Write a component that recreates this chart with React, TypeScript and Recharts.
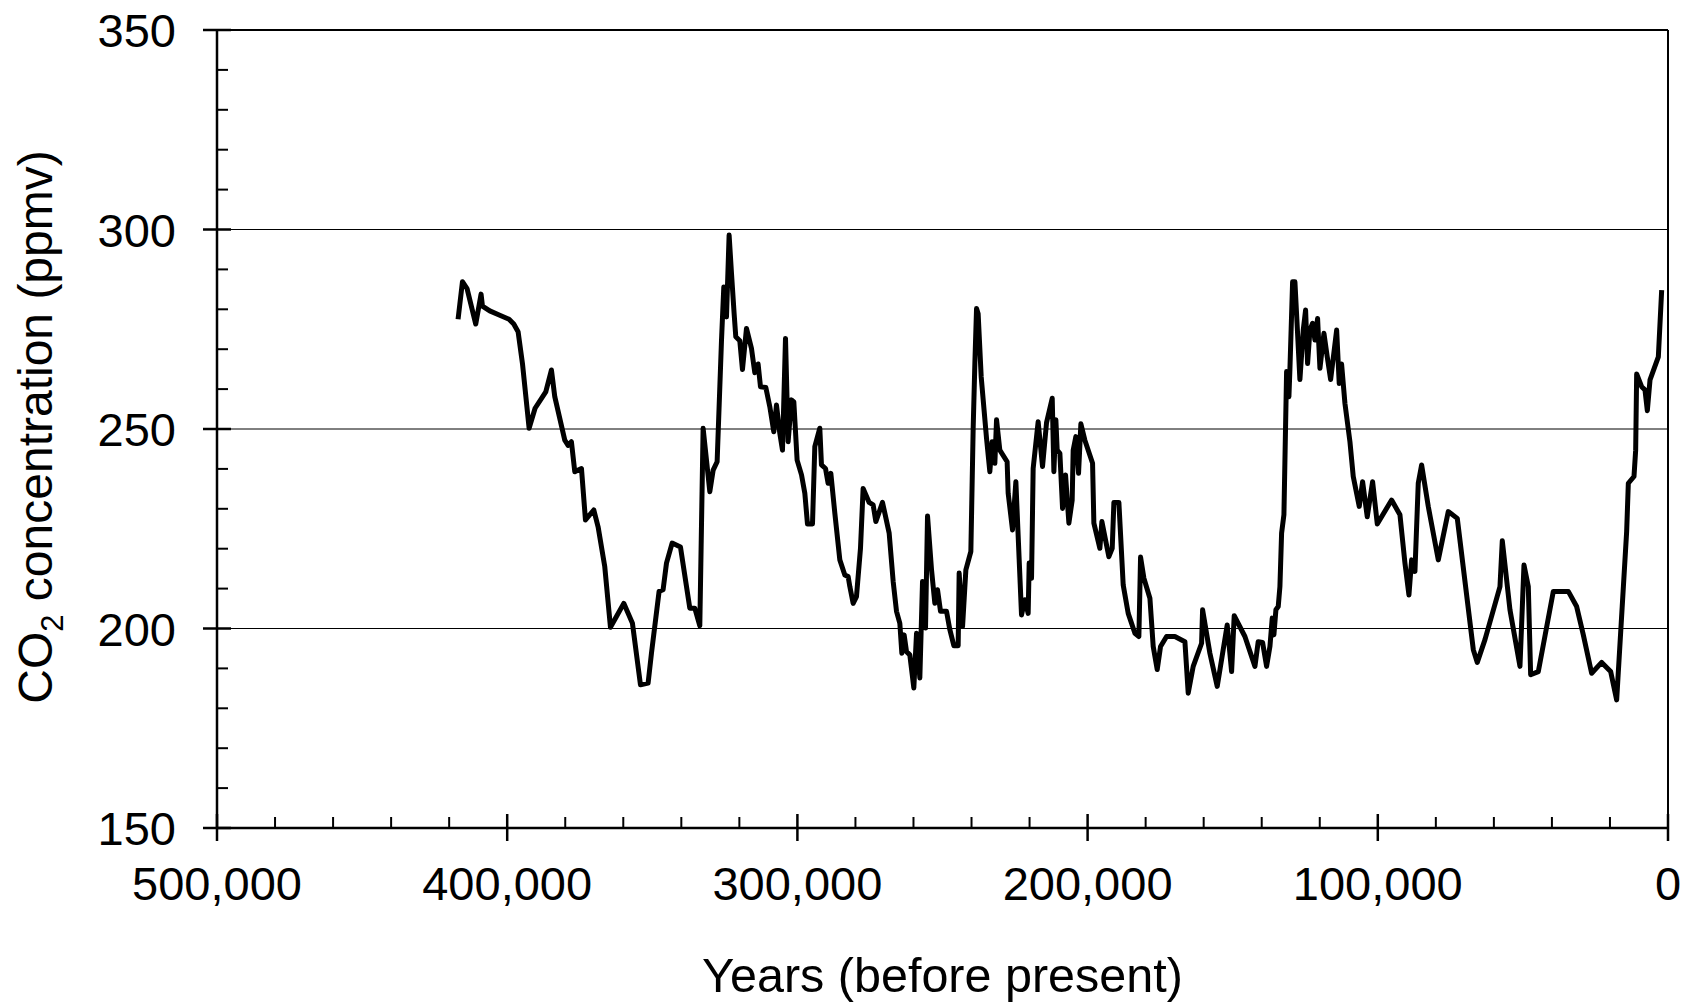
import { LineChart, Line, XAxis, YAxis, ReferenceLine } from "recharts";

const FONT = '"Liberation Sans", Arial, sans-serif';

// years before present (x) and CO2 in ppmv (y)
const years = [
  416930, 415420, 413830, 410840, 409010, 408530, 406010, 402560, 399360, 397740,
  396250, 394740, 392450, 390390, 386710, 384750, 383610, 380160, 379020, 377870,
  376710, 374410, 373030, 370170, 368680, 366380, 364420, 362350, 359830, 356840,
  354080, 351450, 350290, 347660, 346280, 345110, 343170, 340290, 337080, 335360,
  333630, 332490, 330180, 329030, 327660, 326150, 325360, 324440, 323530, 322710,
  321810, 321230, 319850, 318930, 317550, 315830, 314680, 313540, 312720, 310880,
  309510, 308130, 307210, 306060, 305140, 304100, 303200, 302040, 301230, 300100,
  298580, 297440, 296530, 294800, 294000, 292280, 291710, 290310, 289420, 288480,
  287100, 285380, 283660, 282510, 281930, 280790, 279640, 278260, 277350, 275280,
  273900, 272970, 270670, 268380, 267000, 265850, 264700, 264010, 263220, 262400,
  261260, 259880, 258950, 257810, 256880, 255850, 255160, 253780, 252640, 251710,
  250680, 248610, 247470, 246090, 244600, 244260, 243090, 241950, 240230, 239430,
  238850, 238270, 237720, 236670, 234830, 233690, 232890, 231960, 231380, 230240,
  227730, 227370, 225870, 224720, 222770, 221620, 220480, 220130, 219320, 218760,
  217040, 215530, 214150, 212190, 211620, 210930, 210480, 209550, 208630, 207600,
  206450, 205310, 204970, 204040, 203120, 202320, 200940, 198290, 197840, 195770,
  195080, 192670, 191520, 190940, 189220, 187730, 186010, 183700, 182330, 181750,
  180600, 178530, 177390, 176010, 174860, 172790, 169920, 166470, 165330, 163610,
  160720, 160380, 157860, 155330, 151890, 150380, 149480, 145790, 142340, 141210,
  139700, 138320, 137170, 136380, 135800, 135110, 134310, 133730, 133150, 132350,
  131430, 130630, 130290, 129360, 128560, 127760, 126840, 125690, 124880, 124190,
  123390, 122470, 121670, 120750, 119940, 118560, 117420, 116250, 114180, 113290,
  112480, 111320, 109600, 108460, 106390, 105240, 103640, 101790, 100180, 95240,
  92370, 90650, 89270, 88350, 87200, 86060, 84900, 82610, 79160, 75710,
  72610, 67090, 65720, 63070, 57900, 57100, 54460, 51010, 49630, 48140,
  47330, 44690, 39520, 34350, 31480, 29180, 26310, 22860, 19760, 17690,
  14250, 13670, 11720, 11140, 10800, 9080, 7930, 7120, 6200, 3330,
  2180,
];

const co2 = [
  277.5, 286.9, 285.2, 276.3, 283.8, 280.8, 279.6, 278.5, 277.5, 276.3,
  274.4, 266.4, 250.2, 255.2, 259.3, 264.8, 258.1, 247.2, 245.9, 246.8,
  239.3, 240.1, 227.2, 229.7, 225.5, 215.5, 200.3, 203.0, 206.3, 201.3,
  185.9, 186.3, 193.8, 209.3, 209.7, 216.4, 221.4, 220.4, 205.1, 205.1,
  200.7, 250.2, 234.3, 239.7, 241.8, 272.3, 285.6, 278.1, 298.6, 289.0,
  279.0, 273.1, 272.1, 264.9, 275.2, 270.2, 264.1, 266.3, 260.6, 260.4,
  255.6, 249.3, 256.0, 248.9, 244.7, 272.7, 246.8, 257.3, 256.8, 242.2,
  238.5, 233.9, 226.2, 226.2, 245.6, 250.2, 241.0, 240.1, 236.4, 238.9,
  228.9, 217.2, 213.4, 213.0, 210.5, 206.3, 208.0, 220.1, 235.1, 231.6,
  231.0, 226.8, 231.6, 223.9, 211.8, 204.3, 201.3, 193.8, 198.4, 194.2,
  193.4, 185.1, 198.8, 187.6, 211.8, 200.1, 228.2, 214.7, 206.3, 209.7,
  204.3, 204.3, 199.7, 195.7, 195.7, 213.9, 200.5, 214.7, 219.3, 250.2,
  266.4, 280.2, 278.9, 263.1, 247.7, 239.3, 246.8, 241.4, 252.3, 244.7,
  241.8, 233.9, 224.7, 236.8, 203.4, 207.2, 203.8, 216.4, 212.6, 240.1,
  251.8, 240.6, 251.6, 257.7, 239.3, 252.3, 244.7, 243.9, 230.1, 238.5,
  226.4, 232.2, 244.7, 248.1, 238.9, 251.3, 247.2, 241.4, 226.4, 220.1,
  226.8, 218.0, 220.1, 231.6, 231.6, 210.9, 203.8, 198.8, 198.0, 217.9,
  212.6, 207.6, 195.5, 189.7, 195.5, 198.0, 198.0, 196.7, 183.8, 190.5,
  196.3, 204.7, 193.8, 185.5, 200.9, 189.2, 203.2, 198.0, 190.5, 196.7,
  196.5, 190.5, 195.5, 202.6, 198.4, 204.7, 205.5, 210.5, 223.9, 228.5,
  264.4, 258.1, 264.8, 286.9, 286.9, 275.6, 262.4, 274.8, 279.8, 266.4,
  274.8, 276.5, 272.3, 277.7, 265.2, 274.0, 268.1, 262.4, 274.8, 261.4,
  266.3, 256.4, 246.8, 238.1, 230.6, 236.8, 228.0, 236.8, 226.2, 232.2,
  228.5, 216.4, 208.4, 217.2, 214.3, 236.4, 241.0, 230.6, 217.2, 229.3,
  227.6, 194.7, 191.5, 197.2, 210.5, 222.0, 204.7, 190.5, 215.9, 210.5,
  188.4, 189.2, 209.3, 209.3, 205.5, 198.4, 188.8, 191.5, 189.2, 182.1,
  224.3, 236.4, 238.1, 244.7, 263.8, 260.6, 259.8, 254.6, 262.3, 268.1,
  284.8,
];

const xTicks = [
  0, 20000, 40000, 60000, 80000, 100000, 120000, 140000, 160000, 180000,
  200000, 220000, 240000, 260000, 280000, 300000, 320000, 340000, 360000,
  380000, 400000, 420000, 440000, 460000, 480000, 500000,
];
const yTicks = [
  150, 160, 170, 180, 190, 200, 210, 220, 230, 240, 250, 260, 270, 280, 290,
  300, 310, 320, 330, 340, 350,
];
const gridLevels = [200, 250, 300];

const data = years.map((year, i) => ({ year, co2: co2[i] }));

const XTick = ({ x, y, payload }: any) => {
  const v = payload.value;
  const major = v % 100000 === 0;
  if (!major) {
    return <line x1={x} x2={x} y1={y} y2={y - 11} stroke="#000" strokeWidth={2} />;
  }
  return (
    <g>
      <line x1={x} x2={x} y1={y - 14} y2={y + 13} stroke="#000" strokeWidth={2.5} />
      <text x={x} y={y + 72} textAnchor="middle" fontSize={47} fontFamily={FONT} fill="#000">
        {v.toLocaleString("en-US")}
      </text>
    </g>
  );
};

const YTick = ({ x, y, payload }: any) => {
  const v = payload.value;
  const major = v % 50 === 0;
  if (!major) {
    return <line x1={x} x2={x + 11} y1={y} y2={y} stroke="#000" strokeWidth={2} />;
  }
  return (
    <g>
      <line x1={x - 14} x2={x + 14} y1={y} y2={y} stroke="#000" strokeWidth={2.5} />
      <text x={x - 41} y={y + 17} textAnchor="end" fontSize={47} fontFamily={FONT} fill="#000">
        {v}
      </text>
    </g>
  );
};

const XLabel = ({ viewBox }: any) => (
  <text
    x={viewBox.x + viewBox.width / 2}
    y={viewBox.y + 164}
    textAnchor="middle"
    fontSize={48.5}
    fontFamily={FONT}
    fill="#000"
  >
    Years (before present)
  </text>
);

const YLabel = ({ viewBox }: any) => {
  const cx = viewBox.x + 52;
  const cy = viewBox.y + viewBox.height / 2 - 2;
  return (
    <text
      transform={`translate(${cx},${cy}) rotate(-90)`}
      textAnchor="middle"
      fontSize={48}
      fontFamily={FONT}
      fill="#000"
    >
      CO
      <tspan fontSize={31} dy={11}>
        2
      </tspan>
      <tspan dy={-11}> concentration (ppmv)</tspan>
    </text>
  );
};

export default function App() {
  return (
    <div style={{ position: "absolute", left: 0, top: 0, background: "#fff" }}>
      <LineChart
        width={1682}
        height={1005}
        data={data}
        margin={{ top: 30, right: 14, left: 0, bottom: 0 }}
      >
        <XAxis
          dataKey="year"
          type="number"
          domain={[0, 500000]}
          reversed
          ticks={xTicks}
          interval={0}
          height={177}
          tickSize={0}
          tickMargin={0}
          tickLine={false}
          tick={<XTick />}
          axisLine={{ stroke: "#000", strokeWidth: 2.5 }}
          label={{ content: XLabel }}
        />
        <YAxis
          type="number"
          domain={[150, 350]}
          ticks={yTicks}
          interval={0}
          width={217}
          tickSize={0}
          tickMargin={0}
          tickLine={false}
          tick={<YTick />}
          axisLine={{ stroke: "#000", strokeWidth: 2.5 }}
          label={{ content: YLabel }}
        />
        {gridLevels.map((g) => (
          <ReferenceLine key={g} y={g} stroke="#000" strokeWidth={1} />
        ))}
        <ReferenceLine y={350} stroke="#000" strokeWidth={2} />
        <ReferenceLine x={0} stroke="#000" strokeWidth={2} />
        <Line
          type="linear"
          dataKey="co2"
          stroke="#000"
          strokeWidth={5}
          strokeLinejoin="round"
          dot={false}
          activeDot={false}
          isAnimationActive={false}
        />
      </LineChart>
    </div>
  );
}
